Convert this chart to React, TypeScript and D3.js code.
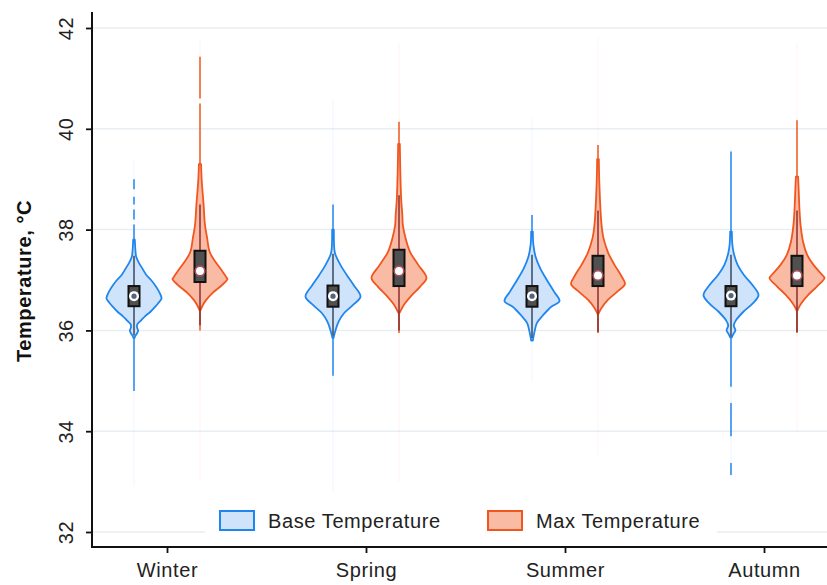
import React, { useEffect, useRef } from 'react';
import * as d3 from 'd3';

// seasons on the x axis and the two series
const seasons = ['Winter', 'Spring', 'Summer', 'Autumn'];
const series = ['Base Temperature', 'Max Temperature'];
const yTicks = [32, 34, 36, 38, 40, 42];

// violin outlines: [temperature, relative density], one per season
const baseProfiles: [number, number][][] = [
  [[37.8, 0.03], [37.6, 0.05], [37.46, 0.08], [37.35, 0.17], [37.24, 0.29], [37.1, 0.45], [37.0, 0.62], [36.9, 0.76], [36.8, 0.88], [36.7, 0.97], [36.63, 1.0], [36.54, 0.88], [36.45, 0.74], [36.37, 0.6], [36.28, 0.4], [36.2, 0.26], [36.12, 0.12], [36.06, 0.11], [36.0, 0.15], [35.94, 0.11], [35.89, 0.05], [35.85, 0.02]],
  [[38.0, 0.03], [37.6, 0.05], [37.5, 0.09], [37.3, 0.27], [37.1, 0.5], [36.9, 0.75], [36.67, 1.0], [36.5, 0.72], [36.34, 0.4], [36.17, 0.2], [36.0, 0.09], [35.9, 0.04], [35.85, 0.02]],
  [[37.96, 0.03], [37.7, 0.05], [37.46, 0.13], [37.23, 0.3], [37.0, 0.54], [36.77, 0.8], [36.58, 1.0], [36.47, 0.7], [36.3, 0.4], [36.15, 0.18], [35.97, 0.09], [35.8, 0.03]],
  [[37.96, 0.03], [37.7, 0.05], [37.53, 0.1], [37.3, 0.24], [37.1, 0.47], [36.9, 0.78], [36.7, 1.0], [36.54, 0.8], [36.37, 0.45], [36.2, 0.18], [36.1, 0.1], [36.0, 0.16], [35.92, 0.08], [35.86, 0.03]],
];
const maxProfiles: [number, number][][] = [
  [[39.3, 0.04], [39.0, 0.06], [38.5, 0.13], [38.1, 0.18], [37.83, 0.26], [37.56, 0.35], [37.36, 0.56], [37.2, 0.78], [37.06, 0.95], [37.02, 1.0], [36.9, 0.8], [36.74, 0.45], [36.6, 0.22], [36.5, 0.1], [36.44, 0.05], [36.4, 0.02]],
  [[39.7, 0.03], [39.1, 0.05], [38.6, 0.08], [38.3, 0.12], [38.09, 0.14], [37.83, 0.24], [37.56, 0.4], [37.3, 0.7], [37.04, 1.0], [36.87, 0.77], [36.67, 0.42], [36.5, 0.17], [36.4, 0.07], [36.35, 0.02]],
  [[39.4, 0.03], [38.9, 0.05], [38.4, 0.09], [38.09, 0.13], [37.83, 0.2], [37.54, 0.37], [37.3, 0.6], [37.07, 0.86], [36.92, 0.98], [36.77, 0.7], [36.6, 0.35], [36.47, 0.16], [36.37, 0.05], [36.33, 0.02]],
  [[39.05, 0.04], [38.8, 0.06], [38.4, 0.09], [38.09, 0.13], [37.76, 0.22], [37.5, 0.37], [37.3, 0.6], [37.1, 0.92], [37.04, 1.0], [36.87, 0.72], [36.7, 0.4], [36.54, 0.16], [36.44, 0.05], [36.4, 0.02]],
];

// box stats: [q1, median, q3, lower whisker, upper whisker]
const baseBoxes = [
  [36.48, 36.68, 36.88, 35.9, 37.48],
  [36.47, 36.68, 36.89, 35.9, 37.52],
  [36.47, 36.68, 36.88, 35.85, 37.5],
  [36.48, 36.69, 36.88, 35.88, 37.5],
];
const maxBoxes = [
  [36.96, 37.18, 37.58, 36.1, 38.5],
  [36.88, 37.18, 37.6, 36.0, 38.68],
  [36.88, 37.09, 37.48, 35.97, 38.38],
  [36.88, 37.09, 37.48, 35.97, 38.38],
];

// sparse tails drawn as thin lines [from, to]
const baseTails = [
  [[37.8, 38.1], [38.2, 38.4], [38.5, 38.65], [38.8, 39.0], [34.8, 35.85]],
  [[38.0, 38.5], [35.1, 35.85]],
  [[37.96, 38.29]],
  [[37.96, 39.55], [34.88, 35.86], [33.9, 34.56], [33.13, 33.37]],
];
const maxTails = [
  [[39.3, 40.5], [40.6, 41.43], [36.0, 36.4]],
  [[39.7, 40.14], [35.95, 36.35]],
  [[39.4, 39.68], [35.95, 36.33]],
  [[39.05, 40.17], [35.95, 36.4]],
];
// barely visible extreme ranges
const baseFaint = [[32.9, 39.4], [32.8, 40.6], [35.0, 40.2], [33.1, 39.6]];
const maxFaint = [[33.0, 41.76], [33.0, 41.7], [33.5, 41.8], [34.0, 41.7]];

const colors = {
  base: { fill: '#cfe4fb', stroke: '#1f86ee', whisker: '#3a4a5c' },
  max: { fill: '#f9bba4', stroke: '#f1561f', whisker: '#8a2e2e' },
};

const App = () => {
  const ref = useRef<SVGSVGElement>(null);

  useEffect(() => {
    drawChart();
  }, []);

  const drawChart = () => {
    const svg = d3.select(ref.current);
    svg.selectAll('*').remove();

    const left = 92, bottom = 547, right = 827;
    const font = 'Liberation Sans, Arial, Helvetica, sans-serif';
    const fs = 20;
    const ls = '0.6px';

    const y = d3.scaleLinear().domain([32, 42]).range([532, 28]);
    const x = d3.scalePoint().domain(seasons).range([167, 764]);
    const offset = d3.scalePoint().domain(series).range([-33, 33]);
    const w = d3.scaleLinear().domain([0, 1]).range([0, 27.5]);

    // gridlines
    svg.append('g')
      .selectAll('line')
      .data(yTicks)
      .enter().append('line')
      .attr('x1', left).attr('x2', right)
      .attr('y1', d => y(d)).attr('y2', d => y(d))
      .attr('stroke', '#e8eef2').attr('stroke-width', 1.5);

    const groups = [
      { key: 'base', name: series[0], profiles: baseProfiles, boxes: baseBoxes, tails: baseTails, faint: baseFaint, c: colors.base },
      { key: 'max', name: series[1], profiles: maxProfiles, boxes: maxBoxes, tails: maxTails, faint: maxFaint, c: colors.max },
    ];

    groups.forEach(gr => {
      seasons.forEach((s, i) => {
        const cx = (x(s) as number) + (offset(gr.name) as number);
        const g = svg.append('g');

        // faint extremes
        g.append('line')
          .attr('x1', cx).attr('x2', cx)
          .attr('y1', y(gr.faint[i][0])).attr('y2', y(gr.faint[i][1]))
          .attr('stroke', gr.c.stroke).attr('stroke-opacity', 0.05).attr('stroke-width', 1.5);

        // tails
        g.selectAll('.tail')
          .data(gr.tails[i])
          .enter().append('line')
          .attr('class', 'tail')
          .attr('x1', cx).attr('x2', cx)
          .attr('y1', d => y(d[0])).attr('y2', d => y(d[1]))
          .attr('stroke', gr.c.stroke).attr('stroke-width', 1.5);

        // violin body
        const pts = gr.profiles[i].slice().sort((a, b) => a[0] - b[0]);
        const area = d3.area<[number, number]>()
          .curve(d3.curveCatmullRom)
          .y(d => y(d[0]))
          .x0(d => cx - w(d[1]))
          .x1(d => cx + w(d[1]));
        g.append('path')
          .attr('d', area(pts))
          .attr('fill', gr.c.fill)
          .attr('stroke', gr.c.stroke)
          .attr('stroke-width', 1.8)
          .attr('stroke-linejoin', 'round');

        // whisker
        const [q1, med, q3, lo, hi] = gr.boxes[i];
        g.append('line')
          .attr('x1', cx).attr('x2', cx)
          .attr('y1', y(lo)).attr('y2', y(hi))
          .attr('stroke', gr.c.whisker).attr('stroke-width', 1.5);

        // box
        g.append('rect')
          .attr('x', cx - 5.5).attr('width', 11)
          .attr('y', y(q3)).attr('height', y(q1) - y(q3))
          .attr('fill', '#505050')
          .attr('stroke', '#111').attr('stroke-width', 2);

        // median marker
        if (gr.key === 'base') {
          g.append('circle').attr('cx', cx).attr('cy', y(med)).attr('r', 5).attr('fill', '#fff');
          g.append('circle').attr('cx', cx).attr('cy', y(med)).attr('r', 2.6).attr('fill', '#51657d');
        } else {
          g.append('circle').attr('cx', cx).attr('cy', y(med)).attr('r', 4.8)
            .attr('fill', '#fff').attr('stroke', '#a9505a').attr('stroke-width', 1.6);
        }
      });
    });

    // axes
    const yAxis = svg.append('g')
      .attr('transform', `translate(${left},0)`)
      .call(d3.axisLeft(y).tickValues(yTicks).tickSize(6).tickSizeOuter(0).tickFormat(d3.format('d')));
    yAxis.select('.domain').remove();
    yAxis.selectAll('.tick line').attr('stroke', '#111').attr('stroke-width', 1.8);
    yAxis.selectAll('.tick text')
      .attr('x', 0).attr('y', 0).attr('dy', 0)
      .attr('text-anchor', 'middle')
      .attr('transform', 'translate(-19,0) rotate(-90)')
      .attr('font-family', font).attr('font-size', fs).attr('letter-spacing', ls).attr('fill', '#222');

    const xAxis = svg.append('g')
      .attr('transform', `translate(0,${bottom})`)
      .call(d3.axisBottom(x).tickSize(6).tickSizeOuter(0));
    xAxis.select('.domain').remove();
    xAxis.selectAll('.tick line').attr('stroke', '#111').attr('stroke-width', 1.8);
    xAxis.selectAll('.tick text')
      .attr('y', 16)
      .attr('font-family', font).attr('font-size', fs).attr('letter-spacing', ls).attr('fill', '#222');

    svg.append('line')
      .attr('x1', left).attr('x2', left).attr('y1', 12).attr('y2', bottom + 1)
      .attr('stroke', '#111').attr('stroke-width', 2);
    svg.append('line')
      .attr('x1', left - 1).attr('x2', right).attr('y1', bottom).attr('y2', bottom)
      .attr('stroke', '#111').attr('stroke-width', 2);

    svg.append('text')
      .attr('transform', `translate(31,281) rotate(-90)`)
      .attr('text-anchor', 'middle')
      .attr('font-family', font).attr('font-size', fs).attr('letter-spacing', ls)
      .attr('font-weight', 'bold').attr('fill', '#111')
      .text('Temperature, °C');

    // legend
    const legend = svg.append('g');
    legend.append('rect')
      .attr('x', 205).attr('y', 500).attr('width', 512).attr('height', 42)
      .attr('fill', '#fff');
    const legendX = d3.scalePoint().domain(series).range([220, 488]);
    series.forEach((name, i) => {
      const c = i === 0 ? colors.base : colors.max;
      const lx = legendX(name) as number;
      legend.append('rect')
        .attr('x', lx).attr('y', 511).attr('width', 34).attr('height', 19)
        .attr('fill', c.fill).attr('stroke', c.stroke).attr('stroke-width', 2);
      legend.append('text')
        .attr('x', lx + 48).attr('y', 528)
        .attr('font-family', font).attr('font-size', fs).attr('letter-spacing', ls).attr('fill', '#222')
        .text(name);
    });
  };

  return (
    <svg ref={ref} width={827} height={585}
      style={{ position: 'absolute', left: 0, top: 0, background: '#fff' }} />
  );
};

export default App;
